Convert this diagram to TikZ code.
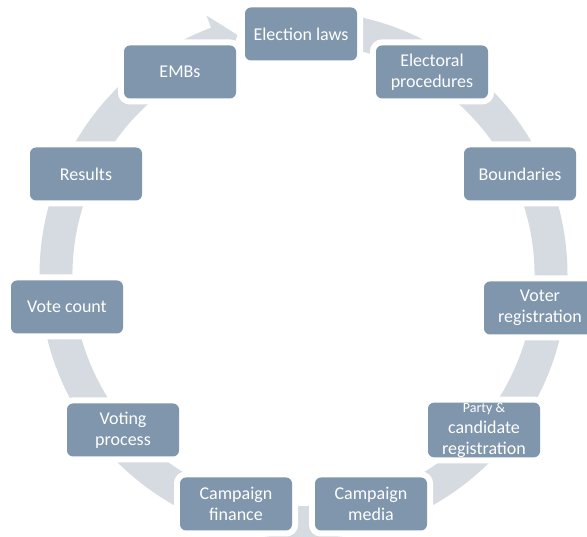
\documentclass[tikz,border=0pt]{standalone}
\usepackage{fontspec}
\setmainfont{Carlito}
\definecolor{boxfill}{RGB}{127,150,172}
\definecolor{ringgray}{RGB}{214,219,225}

\begin{document}
\begin{tikzpicture}[x=1pt,y=1pt,
    box/.style={rectangle,rounded corners=6pt,fill=boxfill,text=white,
        minimum width=112pt,minimum height=53pt,inner sep=0pt,align=center,
        font=\fontsize{18}{21}\selectfont,
        preaction={draw=white,line width=12pt}}]
            \useasboundingbox (0,0) rectangle (587,537);
            \fill[color=ringgray,shift={(303.5,262)}] (88:264) arc[start angle=88,end angle=-249.5,radius=264]
                -- (-249.5:277) -- (-254.6:249) -- (-249.5:219) -- (-249.5:231)
                arc[start angle=-249.5,end angle=88,radius=231] -- cycle;
            \node[box] (laws) at (301,503) {Election laws};
            \node[box] (procedures) at (432,465) {Electoral\\procedures};
            \node[box] (boundaries) at (520,363) {Boundaries};
            \node[box] (voter) at (540,229) {Voter\\registration};
            \node[box] (party) at (484,107) {{\fontsize{14}{16}\selectfont Party \&}\\candidate\\registration};
            \node[box] (media) at (371,33) {Campaign\\media};
            \node[box] (finance) at (236,33) {Campaign\\finance};
            \node[box] (voting) at (123,107) {Voting\\process};
            \node[box] (count) at (67,230) {Vote count};
            \node[box] (results) at (86,363) {Results};
            \node[box] (embs) at (180,465) {EMBs};
        \end{tikzpicture}
\end{document}
